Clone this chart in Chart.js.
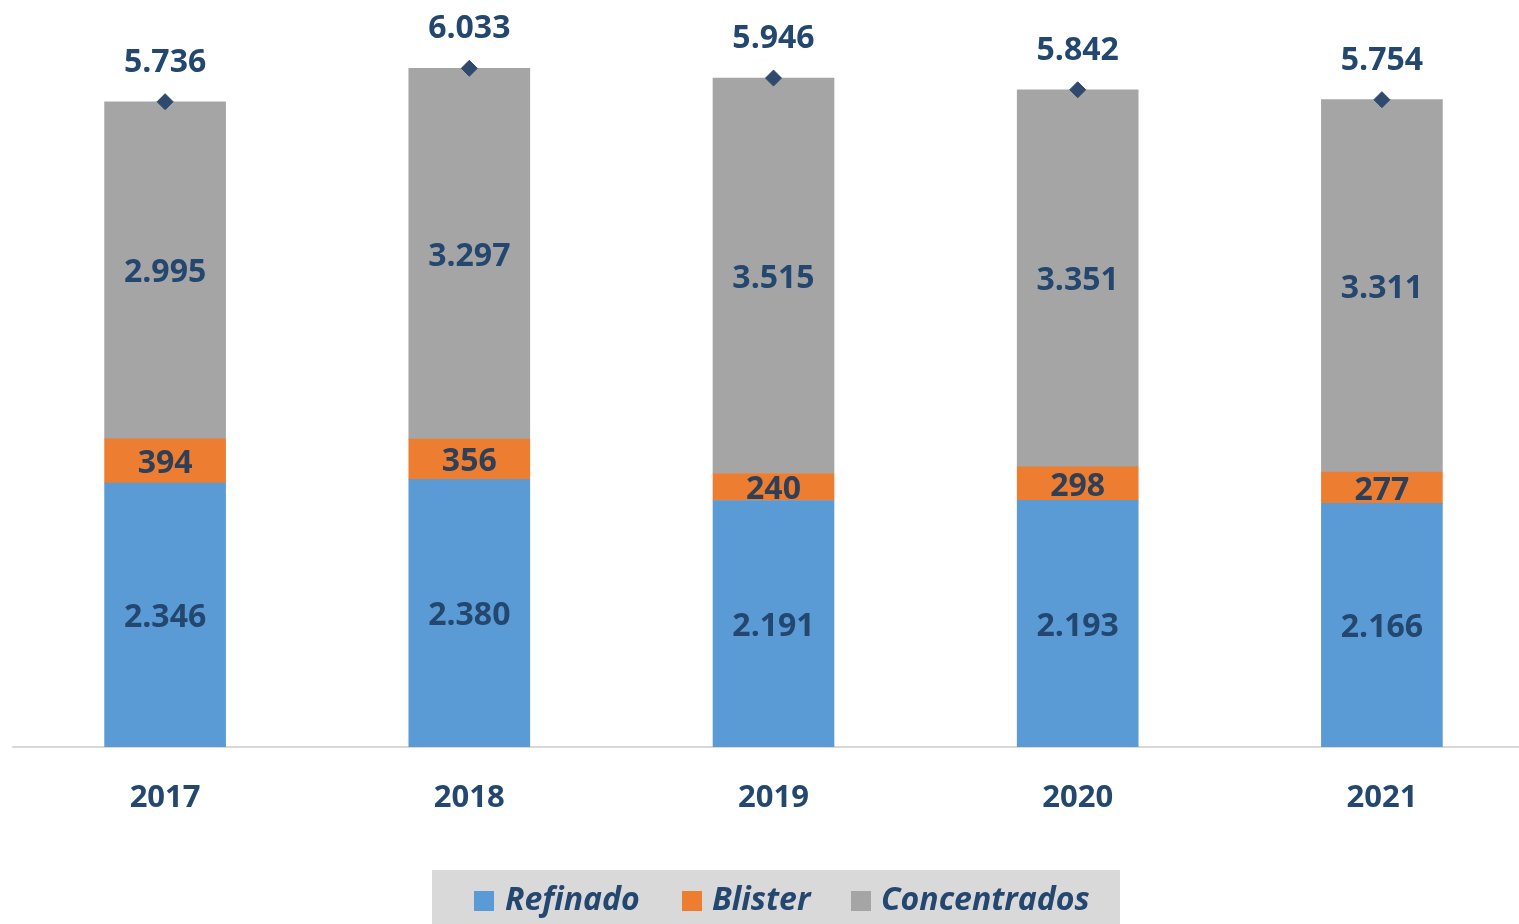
<!DOCTYPE html>
<html>
<head>
<meta charset="utf-8">
<script src="https://cdn.jsdelivr.net/npm/chart.js@4.4.1/dist/chart.umd.min.js"></script>
<style>
html,body{margin:0;padding:0;background:#fff;overflow:hidden;}
#wrap{width:1540px;height:924px;}
</style>
</head>
<body>
<div id="wrap"><canvas id="c" width="1540" height="924"></canvas></div>
<script>
const years = ['2017','2018','2019','2020','2021'];
const refinado = [2346, 2380, 2191, 2193, 2166];
const blister = [394, 356, 240, 298, 277];
const concentrados = [2995, 3297, 3515, 3351, 3311];
const totals = [5736, 6033, 5946, 5842, 5754];

const TEXT = '#23476F';
const FONT = '"Open Sans", "DejaVu Sans", sans-serif';

function fmt(n){ return String(n).replace(/\B(?=(\d{3})+(?!\d))/g, '.'); }

const labelPlugin = {
  id: 'labels',
  afterDatasetsDraw(chart){
    const ctx = chart.ctx;
    ctx.save();
    ctx.font = 'bold 32px ' + FONT;
    ctx.textAlign = 'center';
    ctx.textBaseline = 'middle';
    chart.data.datasets.forEach((ds, di) => {
      const meta = chart.getDatasetMeta(di);
      meta.data.forEach((el, i) => {
        const v = ds.data[i];
        if (ds.type === 'line') {
          ctx.fillStyle = TEXT;
          ctx.fillText(fmt(v), el.x, el.y - 39);
        } else {
          const yc = (el.y + el.base) / 2;
          ctx.fillStyle = di === 1 ? '#2E3F58' : TEXT;
          ctx.fillText(fmt(v), el.x, yc + 3);
        }
      });
    });
    ctx.restore();
  }
};

const legendPlugin = {
  id: 'boxLegend',
  afterDraw(chart){
    const ctx = chart.ctx;
    ctx.save();
    ctx.fillStyle = '#D9D9D9';
    ctx.fillRect(432, 870, 688, 60);
    const items = [
      {i:0, mx:474, tx:505},
      {i:1, mx:682, tx:712},
      {i:2, mx:851, tx:881}
    ];
    ctx.font = 'italic bold 32px ' + FONT;
    ctx.textBaseline = 'middle';
    ctx.textAlign = 'left';
    items.forEach(it => {
      const ds = chart.data.datasets[it.i];
      ctx.fillStyle = ds.backgroundColor;
      ctx.fillRect(it.mx, 891, 20, 20);
      ctx.fillStyle = TEXT;
      ctx.fillText(ds.label, it.tx, 901);
    });
    ctx.restore();
  }
};

new Chart(document.getElementById('c'), {
  data: {
    labels: years,
    datasets: [
      {type:'bar', label:'Refinado', data: refinado, backgroundColor:'#5B9BD5', stack:'a', barThickness:121, order:2},
      {type:'bar', label:'Blister', data: blister, backgroundColor:'#ED7D31', stack:'a', barThickness:121, order:2},
      {type:'bar', label:'Concentrados', data: concentrados, backgroundColor:'#A5A5A5', stack:'a', barThickness:121, order:2},
      {type:'line', label:'Total', data: totals, stack:'total', showLine:false, pointStyle:'rectRot', pointRadius:8, pointHoverRadius:8, pointBackgroundColor:'#2F4A6C', pointBorderColor:'#2F4A6C', order:1}
    ]
  },
  options: {
    responsive: false,
    animation: false,
    layout: {autoPadding: false, padding: {left: 13, right: 6, top: 0, bottom: 0}},
    plugins: {legend: {display: false}, tooltip: {enabled: false}},
    scales: {
      x: {
        stacked: true,
        grid: {display: false, drawTicks: false},
        border: {display: true, color: '#D9D9D9', width: 2},
        ticks: {color: TEXT, font: {family: FONT, size: 31, weight: 'bold'}, padding: 33},
        afterFit(scale){ scale.height = 177; }
      },
      y: {
        stacked: true,
        display: false,
        min: 0,
        max: 6640
      }
    }
  },
  plugins: [labelPlugin, legendPlugin]
});
</script>
</body>
</html>
